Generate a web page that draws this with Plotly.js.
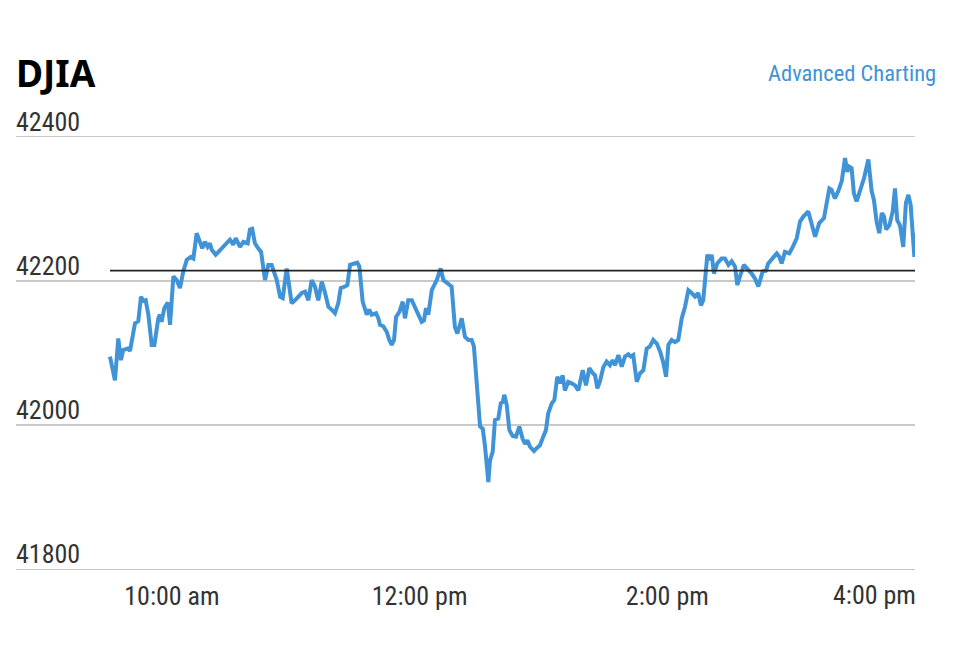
<!DOCTYPE html>
<html>
<head>
<meta charset="utf-8">
<script src="https://cdn.plot.ly/plotly-3.0.1.min.js"></script>
<style>
  html, body { margin: 0; padding: 0; background: #ffffff; }
  #chart { width: 966px; height: 668px; }
</style>
</head>
<body>
<div id="chart"></div>
<script>
// ---- data (minutes after the 9:30 open, index level) ----
const chartTitle = "DJIA";
const linkText = "Advanced Charting";
const minutesAfterOpen = [
  0, 2.4, 4.0, 5.3, 6.4, 8.6, 9.7, 10.5, 12.1, 13.7,
  15.0, 16.1, 17.3, 18.6, 20.2, 21.5, 23.4, 24.2, 25.0, 26.3,
  28.0, 29.1, 30.7, 32.3, 33.9, 35.5, 37.2, 39.2, 40.4, 42.0,
  43.6, 44.7, 46.0, 47.3, 48.4, 49.3, 51.2, 53.3, 55.7, 58.1,
  59.7, 60.9, 63.0, 64.6, 66.7, 67.8, 68.9, 70.2, 71.8, 73.2,
  75.1, 76.7, 78.3, 80.8, 82.4, 83.7, 85.6, 86.4, 88.0, 89.6,
  91.2, 92.9, 94.5, 96.1, 97.7, 99.3, 100.9, 102.6, 104.2, 105.8,
  107.4, 109.0, 110.6, 111.8, 113.9, 115.0, 116.3, 118.7, 119.8, 120.8,
  122.4, 124.4, 125.6, 126.8, 128.9, 130.0, 130.8, 132.4, 134.1, 135.3,
  136.5, 137.6, 138.6, 140.2, 141.8, 142.9, 144.5, 146.2, 147.8, 149.4,
  151.0, 152.1, 153.1, 154.2, 155.9, 158.3, 160.2, 161.5, 163.1, 165.5,
  167.1, 168.3, 170.4, 172.0, 173.6, 175.2, 176.3, 177.7, 178.4, 179.3,
  180.6, 181.7, 183.3, 184.1, 185.4, 186.5, 188.1, 189.3, 190.3, 191.0,
  192.2, 193.5, 195.1, 196.7, 198.3, 199.9, 201.1, 202.2, 203.5, 205.4,
  206.7, 208.3, 209.9, 211.2, 212.3, 214.0, 215.3, 216.7, 218.0, 219.3,
  220.4, 222.0, 223.7, 225.3, 226.9, 229.0, 230.6, 232.2, 233.9, 235.0,
  236.1, 237.4, 239.0, 240.6, 242.2, 243.5, 244.7, 246.3, 247.9, 249.5,
  251.1, 252.3, 253.5, 255.2, 256.8, 258.4, 260.0, 261.6, 263.2, 264.9,
  266.5, 268.1, 269.4, 270.5, 272.1, 273.7, 275.3, 277.0, 278.6, 280.2,
  281.8, 283.4, 285.0, 286.3, 287.4, 288.7, 289.4, 290.7, 291.5, 292.6,
  294.2, 296.3, 297.9, 299.6, 301.2, 302.8, 303.9, 305.2, 307.1, 309.2,
  310.9, 312.5, 314.1, 316.2, 317.8, 318.9, 321.1, 323.0, 324.3, 325.4,
  327.0, 329.1, 330.8, 332.7, 334.3, 335.9, 338.3, 339.5, 341.6, 343.6,
  345.9, 348.5, 349.6, 351.2, 352.8, 354.5, 356.1, 357.2, 358.2, 359.3,
  360.4, 361.7, 363.3, 365.3, 367.4, 369.0, 370.1, 371.4, 372.7, 373.9,
  375.0, 376.0, 377.6, 379.2, 380.3, 381.4, 382.7, 384.3, 385.6, 386.8,
  387.9, 389.2, 389.7, 390.0
];
const djiaValues = [
  42095, 42062, 42120, 42090, 42104, 42106, 42103, 42115, 42141, 42144,
  42178, 42172, 42173, 42153, 42111, 42111, 42148, 42153, 42143, 42162,
  42170, 42139, 42206, 42201, 42190, 42213, 42229, 42233, 42231, 42266,
  42254, 42245, 42254, 42247, 42252, 42243, 42236, 42243, 42250, 42257,
  42250, 42259, 42247, 42254, 42252, 42271, 42272, 42252, 42245, 42240,
  42201, 42222, 42222, 42201, 42178, 42176, 42217, 42201, 42169, 42173,
  42178, 42183, 42185, 42173, 42201, 42192, 42173, 42199, 42183, 42164,
  42160, 42155, 42169, 42190, 42192, 42194, 42222, 42224, 42225, 42220,
  42171, 42153, 42160, 42153, 42155, 42148, 42139, 42137, 42129, 42118,
  42111, 42118, 42150, 42157, 42171, 42148, 42173, 42173, 42162, 42153,
  42143, 42145, 42162, 42153, 42187, 42201, 42217, 42201, 42197, 42192,
  42136, 42127, 42148, 42122, 42118, 42118, 42109, 42053, 42016, 41998,
  41995, 41970, 41921, 41951, 41963, 42007, 42009, 42030, 42032, 42042,
  42028, 41993, 41985, 41984, 41998, 41981, 41974, 41979, 41970, 41964,
  41968, 41972, 41984, 41993, 42016, 42030, 42035, 42067, 42058, 42069,
  42048, 42060, 42058, 42055, 42048, 42076, 42055, 42079, 42072, 42069,
  42051, 42061, 42080, 42088, 42083, 42090, 42083, 42097, 42081, 42095,
  42098, 42095, 42097, 42060, 42072, 42076, 42106, 42109, 42118, 42113,
  42102, 42086, 42067, 42111, 42118, 42115, 42118, 42148, 42164, 42187,
  42183, 42178, 42183, 42166, 42173, 42210, 42236, 42229, 42236, 42210,
  42224, 42231, 42231, 42222, 42227, 42220, 42194, 42206, 42222, 42215,
  42210, 42203, 42192, 42213, 42214, 42224, 42231, 42238, 42233, 42224,
  42240, 42238, 42247, 42259, 42282, 42289, 42296, 42282, 42261, 42280,
  42287, 42328, 42326, 42314, 42324, 42338, 42370, 42351, 42358, 42356,
  42321, 42310, 42324, 42342, 42368, 42324, 42312, 42282, 42266, 42294,
  42289, 42271, 42277, 42296, 42328, 42284, 42277, 42247, 42308, 42319,
  42305, 42259, 42233, 42266
];
const previousClose = 42214;
const sessionStartEnd = [0, 390];
const xTickMinutes = [30, 150, 270];
const xTickLabels = ["10:00 am", "12:00 pm", "2:00 pm"];
const closeTickMinute = 390;
const closeTickLabel = "4:00 pm";
const yTickValues = [41800, 42000, 42200, 42400];
const yTickLabels = ["41800", "42000", "42200", "42400"];

// ---- chart ----
const narrow = "'Liberation Sans Narrow', 'Arial Narrow', 'Roboto Condensed', 'Liberation Sans', sans-serif";
const textGray = "#333333";

const traces = [
  {
    type: "scatter", mode: "lines",
    x: minutesAfterOpen, y: djiaValues,
    line: { color: "#3f93d6", width: 4, shape: "linear" },
    hoverinfo: "skip"
  },
  {
    type: "scatter", mode: "lines",
    x: sessionStartEnd, y: sessionStartEnd.map(() => previousClose),
    line: { color: "#222222", width: 1.8 },
    hoverinfo: "skip"
  }
];

const layout = {
  width: 966, height: 668,
  paper_bgcolor: "#ffffff", plot_bgcolor: "#ffffff",
  showlegend: false,
  margin: { l: 16, r: 51, t: 104, b: 95, pad: 0 },
  title: {
    text: "<b>" + chartTitle + "</b>",
    font: { family: "'Noto Sans', 'Open Sans', sans-serif", size: 37, color: "#000000" },
    xref: "container", x: 16 / 966, xanchor: "left",
    yref: "container", y: 1 - 74 / 668, yanchor: "middle"
  },
  xaxis: {
    range: [-45.54, 390],
    tickmode: "array", tickvals: xTickMinutes, ticktext: xTickLabels,
    showgrid: false, zeroline: false, showline: false, ticks: "",
    tickfont: { family: narrow, size: 26, color: textGray },
    ticklabelstandoff: 5,
    fixedrange: true
  },
  yaxis: {
    range: [41795, 42445],
    tickmode: "array", tickvals: yTickValues, ticktext: yTickLabels,
    showgrid: true, gridcolor: "#c9c9c9", gridwidth: 1.5,
    zeroline: false, showline: false, ticks: "",
    ticklabelposition: "inside",
    ticklabelshift: -15,
    ticklabelstandoff: -3,
    tickfont: { family: narrow, size: 26, color: textGray },
    fixedrange: true
  },
  annotations: [
    {
      text: linkText, showarrow: false,
      xref: "paper", x: (938 - 16) / 899, xanchor: "right",
      yref: "paper", y: (573 - 73) / 469, yanchor: "middle",
      font: { family: narrow, size: 22.5, color: "#3f93d6" }
    },
    {
      text: closeTickLabel, showarrow: false,
      xref: "x", x: closeTickMinute, xanchor: "right", xshift: 3,
      yref: "paper", y: 0, yanchor: "top", yshift: -5,
      font: { family: narrow, size: 26, color: textGray }
    }
  ]
};

Plotly.newPlot("chart", traces, layout, { displayModeBar: false, staticPlot: true, responsive: false });
</script>
</body>
</html>
